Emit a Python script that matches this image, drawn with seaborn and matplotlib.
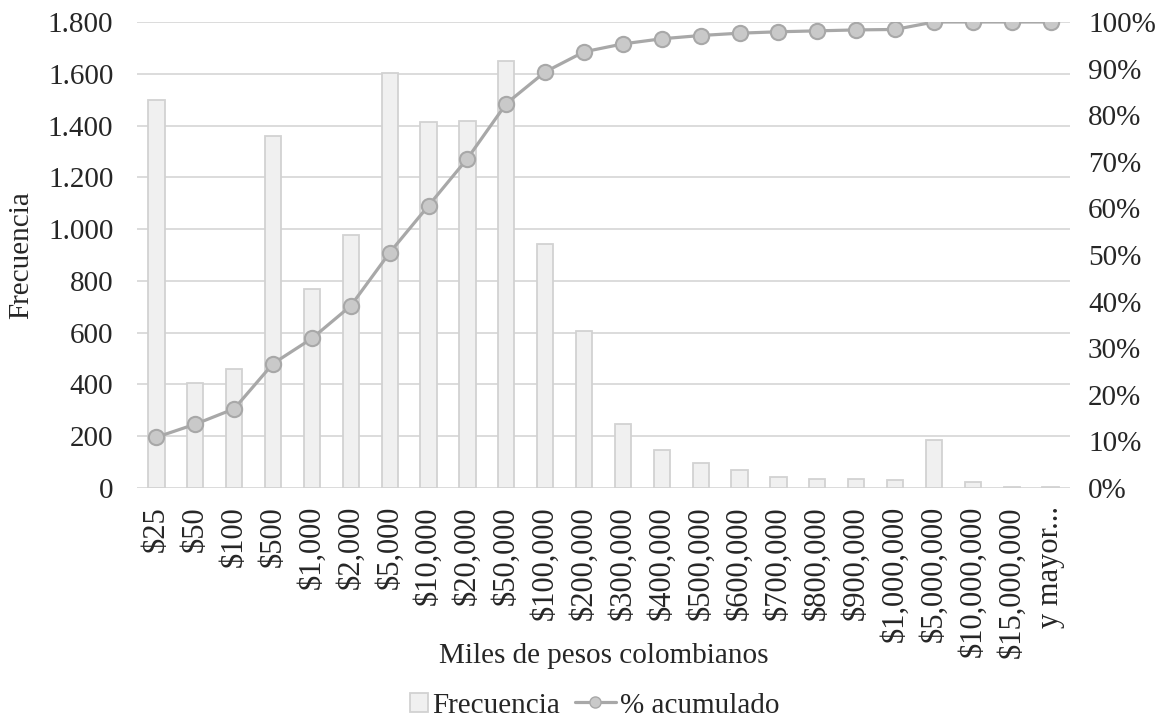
import matplotlib
matplotlib.use("Agg")
import matplotlib.pyplot as plt
from matplotlib.ticker import FuncFormatter, MultipleLocator
from matplotlib.patches import Patch, Rectangle
from matplotlib.lines import Line2D
from matplotlib.legend_handler import HandlerPatch
import seaborn as sns
import pandas as pd

categorias = ["$25", "$50", "$100", "$500", "$1,000", "$2,000", "$5,000", "$10,000",
              "$20,000", "$50,000", "$100,000", "$200,000", "$300,000", "$400,000",
              "$500,000", "$600,000", "$700,000", "$800,000", "$900,000", "$1,000,000",
              "$5,000,000", "$10,000,000", "$15,000,000", "y mayor..."]
frecuencia = [1500, 405, 460, 1360, 769, 977, 1603, 1414, 1418, 1649, 942, 606, 247,
              147, 98, 68, 41, 36, 33, 31, 185, 22, 2, 2]
acumulado = [0.109, 0.137, 0.170, 0.267, 0.321, 0.391, 0.505, 0.606, 0.707, 0.825,
             0.893, 0.936, 0.953, 0.964, 0.971, 0.976, 0.979, 0.981, 0.983, 0.984,
             1.0, 1.0, 1.0, 1.0]

sns.set_theme(style="white")
plt.rcParams["font.family"] = ["Liberation Serif", "DejaVu Serif"]
FS = 21
FSX = 22

df = pd.DataFrame({"cat": categorias, "freq": frecuencia, "acum": acumulado})

fig = plt.figure(figsize=(11.74, 7.26), dpi=100)
ax = fig.add_axes([0.1167, 0.3278, 0.7947, 0.6419])

sns.barplot(data=df, x="cat", y="freq", ax=ax, color="#f0f0f0", width=0.42,
            edgecolor="#d2d2d2", linewidth=1.3, saturation=1, zorder=2)
ax.set_ylim(0, 1800)
ax.yaxis.set_major_locator(MultipleLocator(200))
ax.yaxis.set_major_formatter(FuncFormatter(lambda v, p: f"{v:,.0f}".replace(",", ".")))
ax.grid(axis="y", color="#d9d9d9", linewidth=1.3, zorder=0)
ax.set_axisbelow(True)
for s in ax.spines.values():
    s.set_visible(False)
ax.tick_params(axis="y", length=0, pad=17, labelsize=FS)
ax.tick_params(axis="x", length=0, pad=13, labelsize=FSX, rotation=90)
ax.set_ylabel("Frecuencia", fontsize=FS)
ax.yaxis.label.set_va("center")
ax.yaxis.set_label_coords(-0.124, 0.5)
ax.set_xlabel("Miles de pesos colombianos", fontsize=FS)
ax.xaxis.set_label_coords(0.5, -0.36)
ax.xaxis.label.set_va("center")
ax.set_xlim(-0.5, len(categorias) - 0.5)

ax2 = ax.twinx()
sns.pointplot(data=df, x="cat", y="acum", ax=ax2, color="#a8a8a8", markers="o",
              linestyles="-", linewidth=2.3, markersize=11,
              markerfacecolor="#c9c9c9", markeredgecolor="#a8a8a8",
              markeredgewidth=1.5)
ax2.set_ylim(0, 1.0)
ax2.yaxis.set_major_locator(MultipleLocator(0.1))
ax2.yaxis.set_major_formatter(FuncFormatter(lambda v, p: f"{v:.0%}"))
ax2.tick_params(axis="y", length=0, pad=13, labelsize=FS)
ax2.set_ylabel("")
ax2.set_xlabel("")
ax2.set_xlim(-0.5, len(categorias) - 0.5)
for s in ax2.spines.values():
    s.set_visible(False)
ax2.grid(False)


def square_patch(legend, orig_handle, xdescent, ydescent, width, height, fontsize):
    side = height * 0.82
    return Rectangle((width - side - xdescent, -ydescent + (height - side) / 2),
                     side, side)


handles = [Patch(facecolor="#f0f0f0", edgecolor="#d2d2d2", linewidth=1.3),
           Line2D([0], [0], color="#a8a8a8", linewidth=2.3, marker="o", markersize=8,
                  markerfacecolor="#c9c9c9", markeredgecolor="#a8a8a8")]
fig.legend(handles, ["Frecuencia", "% acumulado"], loc="center",
           bbox_to_anchor=(0.497, 1 - 705 / 726), ncol=2, frameon=False, fontsize=FS,
           handlelength=1.4, handleheight=0.8, handletextpad=0.15, columnspacing=0.5,
           handler_map={Patch: HandlerPatch(patch_func=square_patch)})

fig.savefig("out.png", dpi=100)
